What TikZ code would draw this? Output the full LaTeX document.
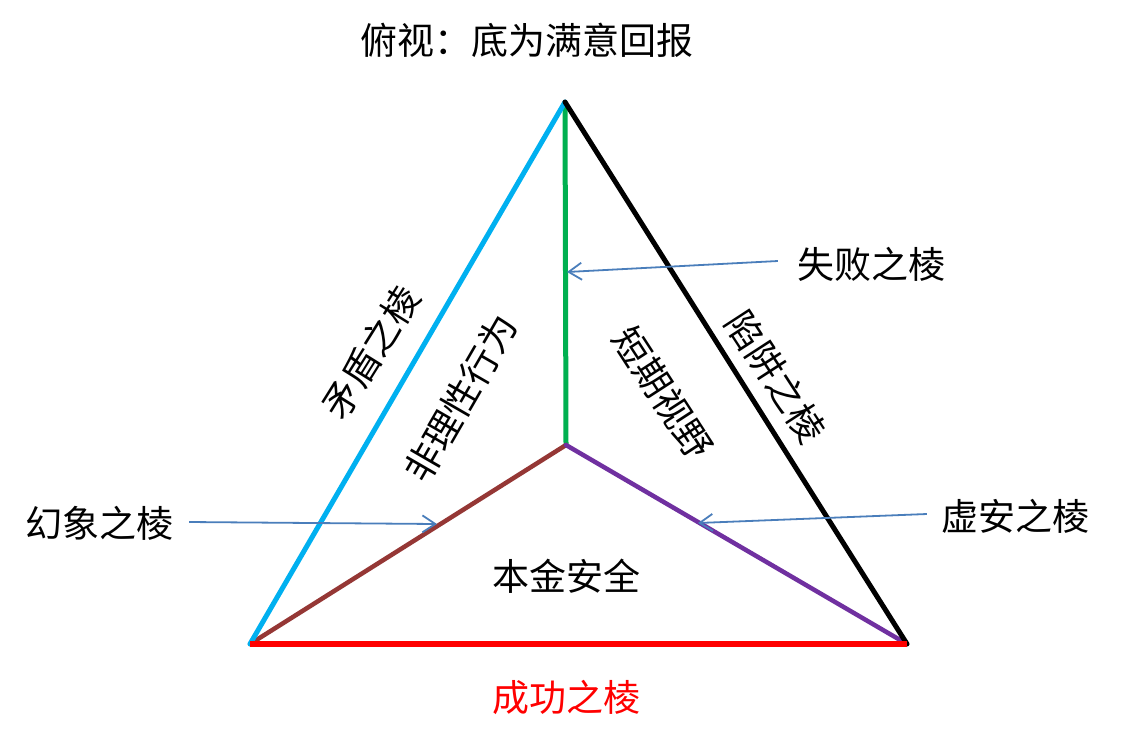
\documentclass[tikz,border=0pt]{standalone}
\usepackage{fontspec}
\setmainfont{Noto Sans CJK SC}
\usetikzlibrary{arrows.meta}
\definecolor{cblue}{HTML}{00B0F0}
\definecolor{cgreen}{HTML}{00B050}
\definecolor{cbrown}{HTML}{953735}
\definecolor{cpurple}{HTML}{7030A0}
\definecolor{carrow}{HTML}{4A7EBB}
\definecolor{cred}{HTML}{FF0000}
\tikzset{
  lbl/.style={font=\fontsize{37}{37}\selectfont, inner sep=0pt, anchor=center},
  edge/.style={line width=5pt, line cap=round},
  pointer/.style={draw=carrow, line width=1.8pt, -{Straight Barb[length=13pt,width=17pt,line width=1.8pt]}}
}
\begin{document}
\begin{tikzpicture}[x=1pt,y=-1pt]
\useasboundingbox[fill=white] (0,0) rectangle (1121,740);
\coordinate (A) at (565,102);
\coordinate (L) at (250,644);
\coordinate (R) at (907,644);
\coordinate (C) at (566,445);
% edges
\draw[edge, cgreen, line cap=butt] (A) -- (C);
\draw[edge, cbrown, line width=4.5pt] (C) -- (L);
\draw[edge, cpurple, line width=4.5pt] (C) -- (R);
\draw[edge, cblue] (L) -- (A);
\draw[edge, black] (A) -- (R);
\draw[cred, line width=6.5pt] (L) -- (R);
% texts
\node[lbl] (title) at (527,40) {俯视：底为满意回报};
\node[lbl, rotate=58] (maodun) at (371,352) {矛盾之棱};
\node[lbl, rotate=60] (feili) at (461,398) {非理性行为};
\node[lbl, rotate=-57] (duanqi) at (663,393) {短期视野};
\node[lbl, rotate=-57] (xianjing) at (776,377) {陷阱之棱};
\node[lbl] (benjin) at (566,576) {本金安全};
\node[lbl, text=cred] (chenggong) at (566,697) {成功之棱};
\node[lbl] (shibai) at (871,264) {失败之棱};
\node[lbl] (xuan) at (1015,516) {虚安之棱};
\node[lbl] (huanxiang) at (99,523) {幻象之棱};
% arrow targets
\coordinate (tF) at (567,272);
\coordinate (tX) at (698,523);
\coordinate (tH) at (437,524);
\draw[pointer] ([xshift=-19pt,yshift=3pt]shibai.west) -- (tF);
\draw[pointer] ([xshift=-14pt,yshift=2pt]xuan.west) -- (tX);
\draw[pointer] ([xshift=16pt,yshift=1pt]huanxiang.east) -- (tH);
\end{tikzpicture}
\end{document}
